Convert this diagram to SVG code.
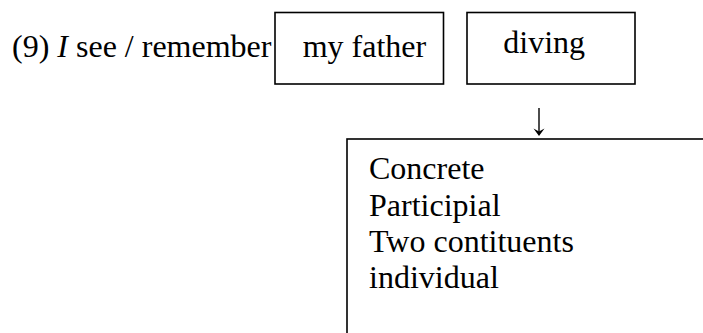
<svg xmlns="http://www.w3.org/2000/svg" width="703" height="333" viewBox="0 0 703 333">
  <style>
    .t { font-family: "Liberation Serif", "Times New Roman", serif; font-size: 32px; fill: #000; }
    .box { fill: #fff; stroke: #000; stroke-width: 1.6; }
    .conn { fill: none; stroke: #000; stroke-width: 1.4; }
  </style>
  <rect width="703" height="333" fill="#fff"/>
  <g id="sentence">
    <text class="t" x="12" y="57">(9) <tspan font-style="italic">I</tspan> see / remember</text>
  </g>
  <g id="my-father">
    <rect class="box" x="275" y="12.5" width="168.5" height="71.5"/>
    <text class="t" x="302.7" y="57.3">my father</text>
  </g>
  <g id="diving">
    <rect class="box" x="467" y="12.5" width="168" height="71.5"/>
    <text class="t" x="503.3" y="52.8">diving</text>
  </g>
  <g id="properties">
    <rect class="box" x="347" y="139" width="420" height="260"/>
    <text class="t" x="369" y="179.3">Concrete</text>
    <text class="t" x="369" y="215.6">Participial</text>
    <text class="t" x="369" y="251.9">Two contituents</text>
    <text class="t" x="369" y="288.2">individual</text>
  </g>
  <g id="connectors">
    <path class="conn" d="M539 108 V134"/>
    <path d="M533.5 128.5 L539 136 L544.5 128.5 L539 131.5 Z" fill="#000"/>
  </g>
</svg>
